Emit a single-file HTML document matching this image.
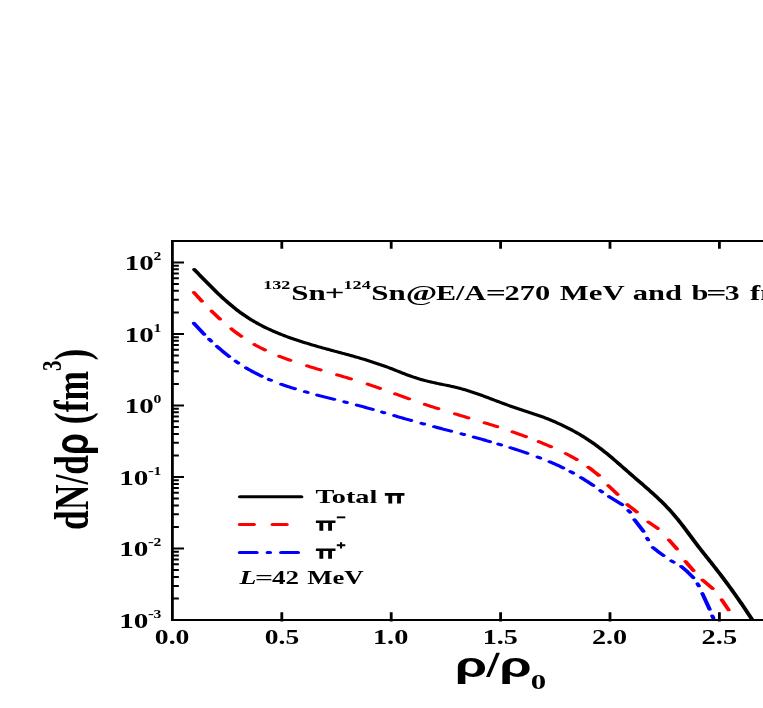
<!DOCTYPE html>
<html><head><meta charset="utf-8"><title>chart</title>
<style>html,body{margin:0;padding:0;background:#fff;overflow:hidden}svg{display:block}text{font-family:"Liberation Serif",serif;font-weight:bold;fill:#000}.sans{font-family:"Liberation Sans",sans-serif;font-weight:bold}</style></head><body>
<svg width="763" height="708" viewBox="0 0 763 708">
<rect width="763" height="708" fill="#fff"/>
<defs><clipPath id="plot"><rect x="123.14" y="241.1" width="448.29" height="379.60"/></clipPath></defs>
<g transform="scale(1.4,1)">
<g clip-path="url(#plot)" fill="none" stroke-linejoin="round" stroke-linecap="round" stroke-width="3.0">
<path d="M138.82,269.57 L139.89,271.13 L140.96,272.69 L142.03,274.24 L143.10,275.79 L144.17,277.33 L145.24,278.87 L146.31,280.41 L147.38,281.93 L148.45,283.45 L149.52,284.96 L150.59,286.46 L151.66,287.95 L152.73,289.42 L153.80,290.88 L154.87,292.33 L155.94,293.77 L157.01,295.18 L158.08,296.58 L159.15,297.97 L160.22,299.33 L161.29,300.68 L162.36,302.00 L163.43,303.30 L164.50,304.58 L165.57,305.84 L166.64,307.07 L167.71,308.27 L168.78,309.45 L169.85,310.61 L170.92,311.73 L171.99,312.83 L173.06,313.89 L174.13,314.94 L175.19,315.95 L176.26,316.94 L177.33,317.91 L178.40,318.86 L179.47,319.78 L180.54,320.68 L181.61,321.56 L182.68,322.41 L183.75,323.25 L184.82,324.07 L185.89,324.88 L186.96,325.66 L188.03,326.43 L189.10,327.18 L190.17,327.91 L191.24,328.63 L192.31,329.34 L193.38,330.03 L194.45,330.70 L195.52,331.36 L196.59,332.01 L197.66,332.64 L198.73,333.26 L199.80,333.87 L200.87,334.47 L201.94,335.06 L203.01,335.63 L204.08,336.20 L205.15,336.75 L206.22,337.29 L207.29,337.83 L208.36,338.36 L209.43,338.87 L210.50,339.38 L211.57,339.89 L212.64,340.38 L213.71,340.87 L214.78,341.35 L215.85,341.83 L216.92,342.30 L217.99,342.77 L219.06,343.23 L220.13,343.69 L221.20,344.14 L222.27,344.59 L223.34,345.03 L224.41,345.47 L225.48,345.91 L226.55,346.34 L227.62,346.77 L228.69,347.20 L229.76,347.62 L230.83,348.04 L231.89,348.45 L232.96,348.86 L234.03,349.27 L235.10,349.68 L236.17,350.08 L237.24,350.49 L238.31,350.89 L239.38,351.29 L240.45,351.69 L241.52,352.09 L242.59,352.49 L243.66,352.89 L244.73,353.29 L245.80,353.70 L246.87,354.10 L247.94,354.51 L249.01,354.92 L250.08,355.34 L251.15,355.76 L252.22,356.18 L253.29,356.60 L254.36,357.03 L255.43,357.46 L256.50,357.90 L257.57,358.34 L258.64,358.78 L259.71,359.23 L260.78,359.69 L261.85,360.15 L262.92,360.61 L263.99,361.08 L265.06,361.56 L266.13,362.04 L267.20,362.53 L268.27,363.02 L269.34,363.52 L270.41,364.03 L271.48,364.54 L272.55,365.06 L273.62,365.59 L274.69,366.13 L275.76,366.67 L276.83,367.22 L277.90,367.78 L278.97,368.35 L280.04,368.93 L281.11,369.51 L282.18,370.10 L283.25,370.70 L284.32,371.29 L285.39,371.89 L286.46,372.49 L287.52,373.08 L288.59,373.67 L289.66,374.25 L290.73,374.82 L291.80,375.38 L292.87,375.93 L293.94,376.46 L295.01,376.98 L296.08,377.48 L297.15,377.96 L298.22,378.43 L299.29,378.88 L300.36,379.32 L301.43,379.74 L302.50,380.15 L303.57,380.55 L304.64,380.93 L305.71,381.30 L306.78,381.66 L307.85,382.01 L308.92,382.35 L309.99,382.69 L311.06,383.01 L312.13,383.33 L313.20,383.64 L314.27,383.95 L315.34,384.26 L316.41,384.57 L317.48,384.87 L318.55,385.18 L319.62,385.49 L320.69,385.80 L321.76,386.13 L322.83,386.46 L323.90,386.79 L324.97,387.14 L326.04,387.50 L327.11,387.88 L328.18,388.27 L329.25,388.67 L330.32,389.08 L331.39,389.51 L332.46,389.95 L333.53,390.40 L334.60,390.86 L335.67,391.33 L336.74,391.81 L337.81,392.31 L338.88,392.81 L339.95,393.32 L341.02,393.84 L342.09,394.37 L343.16,394.91 L344.22,395.45 L345.29,396.00 L346.36,396.56 L347.43,397.12 L348.50,397.69 L349.57,398.25 L350.64,398.82 L351.71,399.39 L352.78,399.96 L353.85,400.53 L354.92,401.10 L355.99,401.67 L357.06,402.23 L358.13,402.79 L359.20,403.35 L360.27,403.90 L361.34,404.44 L362.41,404.99 L363.48,405.52 L364.55,406.06 L365.62,406.58 L366.69,407.11 L367.76,407.63 L368.83,408.14 L369.90,408.65 L370.97,409.16 L372.04,409.66 L373.11,410.16 L374.18,410.65 L375.25,411.14 L376.32,411.63 L377.39,412.12 L378.46,412.60 L379.53,413.09 L380.60,413.58 L381.67,414.08 L382.74,414.58 L383.81,415.09 L384.88,415.61 L385.95,416.13 L387.02,416.67 L388.09,417.21 L389.16,417.77 L390.23,418.35 L391.30,418.93 L392.37,419.53 L393.44,420.15 L394.51,420.77 L395.58,421.41 L396.65,422.07 L397.72,422.73 L398.79,423.41 L399.85,424.10 L400.92,424.80 L401.99,425.51 L403.06,426.24 L404.13,426.98 L405.20,427.72 L406.27,428.48 L407.34,429.26 L408.41,430.05 L409.48,430.85 L410.55,431.66 L411.62,432.49 L412.69,433.34 L413.76,434.21 L414.83,435.09 L415.90,435.99 L416.97,436.91 L418.04,437.85 L419.11,438.81 L420.18,439.79 L421.25,440.79 L422.32,441.82 L423.39,442.86 L424.46,443.92 L425.53,445.01 L426.60,446.11 L427.67,447.23 L428.74,448.37 L429.81,449.53 L430.88,450.70 L431.95,451.89 L433.02,453.10 L434.09,454.32 L435.16,455.55 L436.23,456.80 L437.30,458.06 L438.37,459.34 L439.44,460.62 L440.51,461.91 L441.58,463.21 L442.65,464.52 L443.72,465.83 L444.79,467.15 L445.86,468.46 L446.93,469.78 L448.00,471.10 L449.07,472.41 L450.14,473.73 L451.21,475.03 L452.28,476.33 L453.35,477.63 L454.42,478.92 L455.49,480.21 L456.55,481.50 L457.62,482.79 L458.69,484.08 L459.76,485.38 L460.83,486.68 L461.90,487.99 L462.97,489.30 L464.04,490.62 L465.11,491.96 L466.18,493.30 L467.25,494.66 L468.32,496.03 L469.39,497.42 L470.46,498.83 L471.53,500.26 L472.60,501.72 L473.67,503.19 L474.74,504.70 L475.81,506.24 L476.88,507.80 L477.95,509.40 L479.02,511.04 L480.09,512.71 L481.16,514.43 L482.23,516.18 L483.30,517.98 L484.37,519.82 L485.44,521.70 L486.51,523.61 L487.58,525.55 L488.65,527.51 L489.72,529.49 L490.79,531.49 L491.86,533.50 L492.93,535.51 L494.00,537.52 L495.07,539.53 L496.14,541.53 L497.21,543.52 L498.28,545.49 L499.35,547.44 L500.42,549.37 L501.49,551.29 L502.56,553.19 L503.63,555.08 L504.70,556.97 L505.77,558.85 L506.84,560.73 L507.91,562.61 L508.98,564.49 L510.05,566.38 L511.12,568.28 L512.18,570.19 L513.25,572.11 L514.32,574.05 L515.39,576.01 L516.46,577.99 L517.53,579.98 L518.60,582.00 L519.67,584.03 L520.74,586.08 L521.81,588.14 L522.88,590.22 L523.95,592.32 L525.02,594.43 L526.09,596.56 L527.16,598.70 L528.23,600.86 L529.30,603.03 L530.37,605.21 L531.44,607.41 L532.51,609.62 L533.58,611.84 L534.65,614.07 L535.72,616.32 L536.79,618.58 L537.86,620.85 L538.93,623.13 L540.00,625.42" stroke="#000"/>
<path d="M138.54,292.54 L139.24,293.63 L139.95,294.72 L140.65,295.80 L141.36,296.87 L142.06,297.94 L142.77,299.00 L143.47,300.05 L144.18,301.10 M151.18,311.11 L151.84,312.02 L152.50,312.91 L153.16,313.80 L153.81,314.68 L154.47,315.56 L155.13,316.43 L155.79,317.29 L156.45,318.14 L157.11,318.98 M165.32,328.87 L166.02,329.65 L166.71,330.41 L167.40,331.16 L168.09,331.91 L168.79,332.64 L169.48,333.37 L170.17,334.08 L170.86,334.79 L171.56,335.48 L172.25,336.17 M181.75,344.54 L182.43,345.08 L183.12,345.60 L183.80,346.12 L184.48,346.63 L185.16,347.14 L185.84,347.63 L186.52,348.12 L187.20,348.60 L187.88,349.08 L188.57,349.54 L189.25,350.00 M199.47,356.20 L200.18,356.60 L200.89,356.98 L201.61,357.36 L202.32,357.74 L203.04,358.12 L203.75,358.49 L204.46,358.85 L205.18,359.22 L205.89,359.57 L206.61,359.93 L207.32,360.28 M219.39,365.88 L220.08,366.18 L220.76,366.48 L221.45,366.78 L222.13,367.07 L222.81,367.37 L223.50,367.66 L224.18,367.95 L224.86,368.24 L225.55,368.53 L226.23,368.82 L226.91,369.11 L227.60,369.39 L228.28,369.68 L228.96,369.96 M240.82,374.83 L241.52,375.12 L242.22,375.40 L242.92,375.69 L243.62,375.98 L244.32,376.26 L245.02,376.55 L245.71,376.84 L246.41,377.13 L247.11,377.42 L247.81,377.71 L248.51,378.00 L249.21,378.29 L249.91,378.59 L250.61,378.88 M262.61,384.17 L263.28,384.48 L263.96,384.80 L264.64,385.11 L265.31,385.43 L265.99,385.75 L266.66,386.08 L267.34,386.40 L268.01,386.72 L268.69,387.05 L269.36,387.38 L270.04,387.71 L270.72,388.04 L271.39,388.37 M282.25,393.82 L282.96,394.18 L283.66,394.54 L284.36,394.89 L285.07,395.25 L285.77,395.61 L286.47,395.97 L287.18,396.32 L287.88,396.68 L288.59,397.04 L289.29,397.39 L289.99,397.75 L290.70,398.10 L291.40,398.46 L292.11,398.81 M303.47,404.36 L304.15,404.68 L304.83,405.00 L305.52,405.32 L306.20,405.64 L306.88,405.95 L307.57,406.26 L308.25,406.57 L308.93,406.88 L309.62,407.19 L310.30,407.50 L310.98,407.81 L311.67,408.11 L312.35,408.41 L313.03,408.72 M325.04,413.87 L325.72,414.16 L326.39,414.44 L327.07,414.73 L327.75,415.01 L328.43,415.30 L329.11,415.58 L329.79,415.86 L330.46,416.15 L331.14,416.43 L331.82,416.71 L332.50,417.00 L333.18,417.28 L333.86,417.56 L334.53,417.85 M346.18,422.77 L346.87,423.06 L347.56,423.36 L348.26,423.66 L348.95,423.96 L349.64,424.27 L350.33,424.57 L351.02,424.87 L351.72,425.18 L352.41,425.48 L353.10,425.79 L353.79,426.10 L354.48,426.41 L355.18,426.72 M366.11,431.85 L366.79,432.18 L367.48,432.52 L368.16,432.85 L368.84,433.19 L369.53,433.53 L370.21,433.87 L370.89,434.22 L371.58,434.56 L372.26,434.91 L372.94,435.26 L373.63,435.61 L374.31,435.97 L374.99,436.32 L375.68,436.68 M384.82,441.65 L385.50,442.04 L386.17,442.42 L386.85,442.81 L387.53,443.19 L388.20,443.59 L388.88,443.98 L389.55,444.37 L390.23,444.77 L390.90,445.17 L391.58,445.57 L392.25,445.98 L392.93,446.38 L393.61,446.79 M404.18,453.64 L404.88,454.14 L405.58,454.64 L406.28,455.15 L406.98,455.67 L407.69,456.19 L408.39,456.72 L409.09,457.26 L409.79,457.81 L410.49,458.37 L411.19,458.93 L411.89,459.51 M420.54,467.45 L421.23,468.16 L421.92,468.89 L422.62,469.63 L423.31,470.38 L424.00,471.15 L424.69,471.92 L425.38,472.72 L426.08,473.52 L426.77,474.35 L427.46,475.18 M420.21,467.30 L427.86,475.20 M434.50,485.60 L441.14,494.30 M448.21,504.70 L454.86,511.90 M463.14,522.00 L469.79,528.40 M477.86,540.00 L483.50,548.90 M489.71,561.60 L495.36,570.60 M501.79,580.10 L509.00,588.50 M515.57,599.90 L520.43,609.80 M525.50,620.60 L528.57,627.00" stroke="#ff0000"/>
<path d="M138.54,323.32 L139.21,324.36 L139.87,325.40 L140.54,326.42 L141.21,327.43 L141.88,328.44 L142.55,329.44 L143.22,330.42 L143.89,331.40 L144.55,332.37 L145.22,333.34 L145.89,334.29 M149.47,339.24 L150.14,340.15 L150.82,341.05 M154.97,346.36 L155.64,347.19 L156.31,348.00 L156.98,348.81 L157.65,349.61 L158.32,350.41 L158.99,351.19 L159.66,351.96 L160.33,352.73 L161.00,353.48 L161.67,354.23 L162.34,354.97 L163.01,355.70 L163.68,356.42 M168.32,361.17 L168.92,361.74 L169.51,362.31 L170.11,362.88 M175.75,367.89 L176.45,368.47 L177.14,369.04 L177.84,369.60 L178.54,370.15 L179.23,370.70 L179.93,371.24 L180.63,371.76 L181.32,372.29 L182.02,372.80 L182.71,373.31 L183.41,373.81 L184.11,374.30 L184.80,374.78 L185.50,375.26 L186.19,375.73 L186.89,376.19 M192.04,379.42 L192.54,379.72 L193.03,380.01 L193.53,380.30 M200.90,384.26 L201.59,384.61 L202.28,384.95 L202.98,385.28 L203.67,385.62 L204.36,385.95 L205.06,386.27 L205.75,386.59 L206.44,386.91 L207.14,387.23 L207.83,387.54 L208.52,387.85 L209.22,388.15 L209.91,388.46 L210.61,388.75 M217.82,391.72 L218.44,391.96 L219.06,392.20 L219.68,392.44 M226.61,395.04 L227.32,395.30 L228.04,395.56 L228.75,395.81 L229.47,396.07 L230.18,396.33 L230.89,396.58 L231.61,396.83 L232.32,397.08 L233.04,397.34 L233.75,397.59 L234.46,397.84 L235.18,398.09 L235.89,398.34 L236.61,398.59 L237.32,398.84 L238.03,399.08 L238.75,399.33 M245.97,401.85 L246.54,402.06 L247.11,402.26 L247.68,402.46 M254.89,405.07 L255.60,405.34 L256.31,405.60 L257.02,405.87 L257.73,406.14 L258.44,406.41 L259.15,406.68 L259.86,406.95 L260.57,407.23 L261.28,407.50 L261.99,407.78 L262.70,408.05 L263.41,408.33 L264.12,408.61 L264.83,408.89 L265.54,409.17 L266.25,409.45 M272.97,412.15 L273.47,412.35 L273.96,412.55 L274.46,412.75 M281.61,415.65 L282.32,415.94 L283.03,416.23 L283.74,416.52 L284.45,416.80 L285.16,417.09 L285.87,417.38 L286.58,417.66 L287.29,417.95 L288.00,418.23 L288.71,418.52 L289.42,418.80 L290.13,419.08 L290.84,419.36 L291.55,419.64 L292.26,419.92 L292.97,420.20 L293.68,420.48 M301.11,423.34 L301.70,423.57 L302.30,423.79 L302.89,424.01 M310.11,426.70 L310.82,426.96 L311.53,427.22 L312.24,427.48 L312.95,427.75 L313.66,428.01 L314.37,428.27 L315.08,428.53 L315.79,428.79 L316.50,429.04 L317.21,429.30 L317.92,429.56 L318.63,429.82 L319.34,430.08 L320.05,430.34 L320.76,430.60 L321.47,430.86 L322.18,431.12 M329.68,433.87 L330.27,434.09 L330.87,434.31 L331.46,434.53 M338.47,437.14 L339.14,437.40 L339.82,437.66 L340.50,437.91 L341.17,438.17 L341.85,438.43 L342.52,438.69 L343.20,438.95 L343.88,439.21 L344.55,439.47 L345.23,439.73 L345.90,440.00 L346.58,440.26 L347.26,440.53 L347.93,440.79 L348.61,441.06 L349.29,441.33 L349.96,441.60 M355.97,444.03 L356.61,444.30 L357.25,444.57 L357.89,444.84 M364.54,447.69 L365.25,448.00 L365.97,448.32 L366.68,448.64 L367.39,448.96 L368.11,449.28 L368.82,449.60 L369.54,449.93 L370.25,450.26 L370.96,450.59 L371.68,450.92 L372.39,451.25 L373.11,451.59 L373.82,451.92 L374.53,452.26 L375.25,452.60 L375.96,452.95 L376.68,453.29 M384.04,457.00 L384.63,457.31 L385.23,457.63 L385.82,457.95 M392.54,461.71 L393.24,462.12 L393.94,462.54 L394.63,462.96 L395.33,463.39 L396.03,463.82 L396.73,464.25 L397.43,464.69 L398.13,465.13 L398.83,465.58 L399.52,466.04 L400.22,466.49 L400.92,466.96 L401.62,467.43 L402.32,467.90 M407.47,471.58 L408.08,472.04 L408.70,472.51 L409.32,472.98 M415.04,477.60 L415.71,478.17 L416.38,478.75 L417.05,479.33 L417.72,479.92 L418.39,480.52 L419.06,481.12 L419.73,481.72 L420.40,482.33 L421.07,482.94 L421.74,483.56 L422.41,484.19 L423.08,484.81 L423.75,485.44 M428.79,490.60 L430.07,491.80 M435.07,496.60 L444.36,504.70 M448.86,510.60 L450.14,512.20 M453.21,519.80 L459.57,531.30 M462.29,538.30 L462.93,539.80 M466.36,547.50 L470.00,551.60 L473.93,555.50 M479.57,560.90 L481.14,562.10 M486.64,566.50 L491.07,571.80 L495.21,577.70 M498.29,583.80 L499.14,585.80 M501.71,593.60 L506.86,609.20 M508.79,616.00 L509.50,618.00" stroke="#0000ff"/>
</g>
<path d="M123.14,620.1 L123.14,241.1 L571.43,241.1 M122.14,620.1 L571.43,620.1" fill="none" stroke="#000" stroke-width="2" stroke-linejoin="miter"/>
<path d="M123.14,598.47 h4.6 M123.14,585.88 h4.6 M123.14,576.94 h4.6 M123.14,570.01 h4.6 M123.14,564.35 h4.6 M123.14,559.56 h4.6 M123.14,555.41 h4.6 M123.14,551.75 h4.6 M123.14,548.48 h8.3 M123.14,526.95 h4.6 M123.14,514.36 h4.6 M123.14,505.42 h4.6 M123.14,498.49 h4.6 M123.14,492.83 h4.6 M123.14,488.04 h4.6 M123.14,483.89 h4.6 M123.14,480.23 h4.6 M123.14,476.96 h8.3 M123.14,455.43 h4.6 M123.14,442.84 h4.6 M123.14,433.90 h4.6 M123.14,426.97 h4.6 M123.14,421.31 h4.6 M123.14,416.52 h4.6 M123.14,412.37 h4.6 M123.14,408.71 h4.6 M123.14,405.44 h8.3 M123.14,383.91 h4.6 M123.14,371.32 h4.6 M123.14,362.38 h4.6 M123.14,355.45 h4.6 M123.14,349.79 h4.6 M123.14,345.00 h4.6 M123.14,340.85 h4.6 M123.14,337.19 h4.6 M123.14,333.92 h8.3 M123.14,312.39 h4.6 M123.14,299.80 h4.6 M123.14,290.86 h4.6 M123.14,283.93 h4.6 M123.14,278.27 h4.6 M123.14,273.48 h4.6 M123.14,269.33 h4.6 M123.14,265.67 h4.6 M123.14,262.40 h8.3" fill="none" stroke="#000" stroke-width="2"/>
<path d="M201.29,621.40 V612.2 M201.29,240.10 V248.8 M279.43,621.40 V612.2 M279.43,240.10 V248.8 M357.57,621.40 V612.2 M357.57,240.10 V248.8 M435.71,621.40 V612.2 M435.71,240.10 V248.8 M513.86,621.40 V612.2 M513.86,240.10 V248.8" fill="none" stroke="#000" stroke-width="2"/>
<path d="M171.43,496.7 L215.21,496.7" stroke="#000" stroke-width="3" fill="none" stroke-linecap="round"/>
<path d="M171.29,524.6 L205.00,524.6" stroke="#ff0000" stroke-width="3" stroke-dasharray="10.1 13.3" fill="none" stroke-linecap="round"/>
<path d="M171.29,552.6 L212.86,552.6" stroke="#0000ff" stroke-width="3" stroke-dasharray="12.07 7.8 1.7 7.93" fill="none" stroke-linecap="round"/>
<g style="filter:grayscale(1)">
<text transform="translate(63.07,530.0) rotate(-90) scale(1,0.96)" font-size="35.5">dN/d<tspan class="sans" font-size="35.5">ρ</tspan> (fm<tspan font-size="21" dy="-20.5">3</tspan><tspan dy="20.5">)</tspan></text>
</g>
</g>
<g style="filter:grayscale(1)">
<text transform="translate(124.68,270.40) scale(1.4504,1)" font-size="20.0">10</text>
<text transform="translate(153.43,260.40) scale(1.3502,1)" font-size="11.6">2</text>
<text transform="translate(124.68,341.92) scale(1.4504,1)" font-size="20.0">10</text>
<text transform="translate(153.43,331.92) scale(1.3502,1)" font-size="11.6">1</text>
<text transform="translate(124.68,413.44) scale(1.4504,1)" font-size="20.0">10</text>
<text transform="translate(153.43,403.44) scale(1.3502,1)" font-size="11.6">0</text>
<text transform="translate(119.16,484.96) scale(1.4618,1)" font-size="20.0">10</text>
<text transform="translate(147.94,474.96) scale(1.5252,1)" font-size="11.6">-</text>
<text transform="translate(153.43,474.96) scale(1.3502,1)" font-size="11.6">1</text>
<text transform="translate(119.16,556.48) scale(1.4618,1)" font-size="20.0">10</text>
<text transform="translate(147.94,546.48) scale(1.5252,1)" font-size="11.6">-</text>
<text transform="translate(153.43,546.48) scale(1.3502,1)" font-size="11.6">2</text>
<text transform="translate(119.16,628.00) scale(1.4618,1)" font-size="20.0">10</text>
<text transform="translate(147.94,618.00) scale(1.5252,1)" font-size="11.6">-</text>
<text transform="translate(153.43,618.00) scale(1.3502,1)" font-size="11.6">3</text>
<text transform="translate(154.86,643.70) scale(1.3830,1)" font-size="20.0">0.0</text>
<text transform="translate(264.87,643.70) scale(1.3745,1)" font-size="20.0">0.5</text>
<text transform="translate(372.93,643.70) scale(1.4172,1)" font-size="20.0">1.0</text>
<text transform="translate(482.65,643.70) scale(1.4084,1)" font-size="20.0">1.5</text>
<text transform="translate(591.90,643.70) scale(1.4103,1)" font-size="20.0">2.0</text>
<text transform="translate(701.59,643.70) scale(1.4231,1)" font-size="20.0">2.5</text>
<text transform="translate(263.15,289.00) scale(1.4122,1)" font-size="12.8">132</text>
<text transform="translate(291.17,299.70) scale(1.4344,1)" font-size="21.6">Sn</text>
<text transform="translate(324.77,299.70) scale(1.6129,1)" font-size="21.6">+</text>
<text transform="translate(343.55,289.00) scale(1.4149,1)" font-size="12.8">124</text>
<text transform="translate(371.17,299.70) scale(1.4344,1)" font-size="21.6">Sn</text>
<text transform="translate(405.72,299.70) scale(1.5657,1)" font-size="21.6">@</text>
<text transform="translate(435.97,299.70) scale(1.3924,1)" font-size="21.6">E/A</text>
<text transform="translate(485.83,299.70) scale(1.6428,1)" font-size="21.6">=</text>
<text transform="translate(504.51,299.70) scale(1.4085,1)" font-size="21.6">270</text>
<text transform="translate(559.76,299.70) scale(1.4223,1)" font-size="21.6">MeV</text>
<text transform="translate(632.81,299.70) scale(1.4118,1)" font-size="21.6">and</text>
<text transform="translate(691.42,299.70) scale(1.4096,1)" font-size="21.6">b</text>
<text transform="translate(706.23,299.70) scale(1.6428,1)" font-size="21.6">=</text>
<text transform="translate(724.79,299.70) scale(1.3754,1)" font-size="21.6">3</text>
<text transform="translate(749.97,299.70) scale(1.4200,1)" font-size="21.6">fm</text>
<text transform="translate(315.48,503.40) scale(1.5211,1)" font-size="18.6">Total</text>
<path d="M384.85,493.10 h19.6 v2.6 h-3.5 v7.80 h-3.85 v-7.80 h-4.9 v7.80 h-3.85 v-7.80 h-3.5 z" fill="#000"/>
<path d="M315.90,520.45 h19.6 v2.6 h-3.5 v7.80 h-3.85 v-7.80 h-4.9 v7.80 h-3.85 v-7.80 h-3.5 z" fill="#000"/>
<path d="M336.8,516.4 h8.5 v1.9 h-8.5 z" fill="#000"/>
<path d="M315.90,548.40 h19.6 v2.6 h-3.5 v7.80 h-3.85 v-7.80 h-4.9 v7.80 h-3.85 v-7.80 h-3.5 z" fill="#000"/>
<path d="M336.8,544.3 h3.2 v-2.1 h2.1 v2.1 h3.2 v1.9 h-3.2 v2.3 h-2.1 v-2.3 h-3.2 z" fill="#000"/>
<text transform="translate(239.61,583.60) scale(1.4838,1)" font-size="18.6" font-style="italic">L</text>
<text transform="translate(254.91,583.60) scale(1.7112,1)" font-size="18.6">=</text>
<text transform="translate(271.96,583.60) scale(1.4508,1)" font-size="18.6">42</text>
<text transform="translate(307.13,583.60) scale(1.4397,1)" font-size="18.6">MeV</text>
<text transform="translate(454.76,677.10) scale(1.5295,1)" font-size="34.2" class="sans">ρ</text>
<path d="M496.3,652.8 L499.9,652.8 L489.7,677.1 L486.0,677.1 Z" fill="#000"/>
<text transform="translate(499.25,677.10) scale(1.5351,1)" font-size="34.2" class="sans">ρ</text>
<text transform="translate(530.74,689.40) scale(1.4678,1)" font-size="21">0</text>
</g>
</svg></body></html>
